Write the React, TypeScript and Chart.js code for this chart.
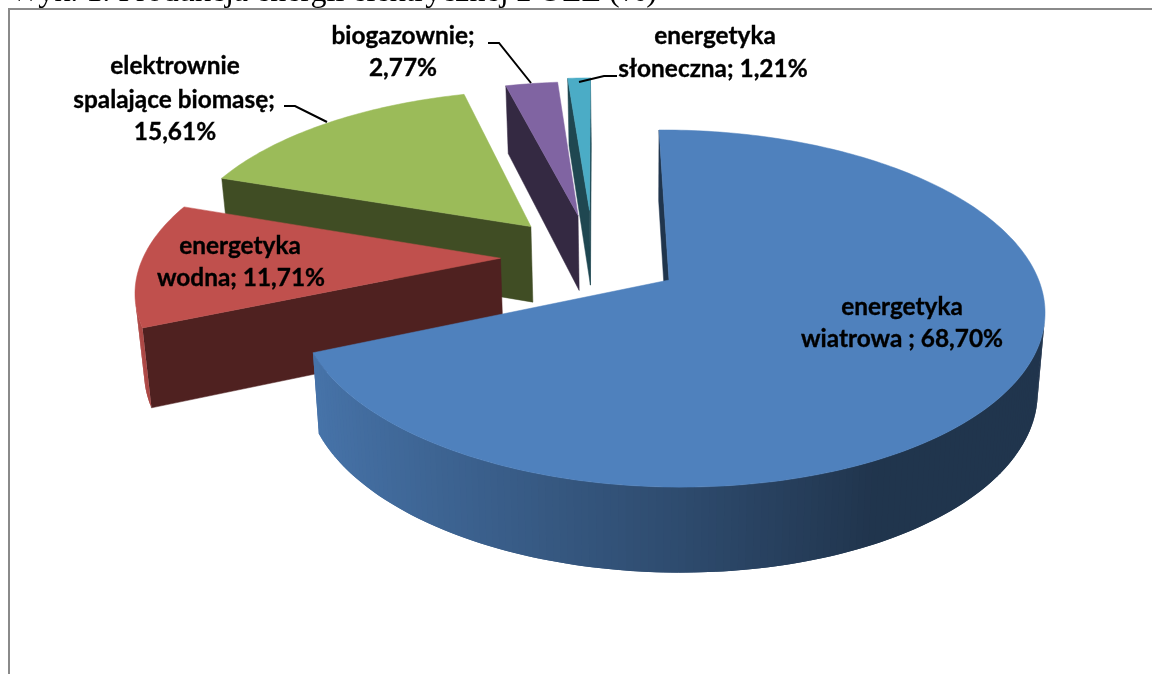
import React, { useEffect, useRef } from "react";
import { Chart, registerables } from "chart.js";

Chart.register(...registerables);

const categories = [
  "energetyka wiatrowa",
  "energetyka wodna",
  "elektrownie spalające biomasę",
  "biogazownie",
  "energetyka słoneczna",
];
const values = [68.7, 11.71, 15.61, 2.77, 1.21];
const sliceColors = ["#4F81BD", "#C0504D", "#9BBB59", "#8064A2", "#4BACC6"];
const titleText = "Wyk. 1. Produkcja energii elektrycznej z OZE (%)";

const labelLines = [
  ["energetyka", "wiatrowa ; 68,70%"],
  ["energetyka", "wodna; 11,71%"],
  ["elektrownie", "spalające biomasę;", "15,61%"],
  ["biogazownie;", "2,77%"],
  ["energetyka", "słoneczna; 1,21%"],
];

// label placement: centre x and centre y of each line
const labelCentres: number[][][] = [
  [[902, 307], [902, 339]],
  [[240, 246], [241, 278]],
  [[175, 66], [174, 100], [175, 132]],
  [[403, 36], [403, 68]],
  [[715, 36], [713, 69]],
];
const leaders: number[][][] = [
  [],
  [],
  [[284, 106], [295, 106], [327, 122]],
  [[488, 43], [499, 43], [531, 83]],
  [[617, 76], [604, 76], [579, 82]],
];

// pie-plane offset of each exploded slice, in radii (x to the right, t towards the viewer)
const explodeX = [0, -0.464, -0.385, -0.2505, -0.2174];
const explodeT = [0, -0.132, -0.3266, -0.397, -0.43];

// perspective of the pie plane
const OX = 669, OY = 280;
const A = 368, B = 11.6, D = -1.5, E = 174, G = -0.003, H = -0.16;

function project(x: number, t: number, bottom: boolean): [number, number] {
  const w = 1 + G * x + H * t;
  let sx = OX + (A * x + B * t) / w;
  let sy = OY + (D * x + E * t) / w;
  if (bottom) {
    sy += 78 + 7.5 * t;
    sx = 640 + (sx - 640) * 0.982;
  }
  return [sx, sy];
}

function shade(hex: string, f: number): string {
  const n = parseInt(hex.slice(1), 16);
  const c = [(n >> 16) & 255, (n >> 8) & 255, n & 255].map((v) => Math.round(v * f));
  return `rgb(${c[0]},${c[1]},${c[2]})`;
}

function area(p: [number, number][]): number {
  let s = 0;
  p.forEach((a, i) => {
    const b = p[(i + 1) % p.length];
    s += a[0] * b[1] - b[0] * a[1];
  });
  return s;
}

function poly(ctx: CanvasRenderingContext2D, pts: [number, number][], color: string, edge = true) {
  ctx.beginPath();
  pts.forEach((p, i) => (i ? ctx.lineTo(p[0], p[1]) : ctx.moveTo(p[0], p[1])));
  ctx.closePath();
  ctx.fillStyle = color;
  ctx.fill();
  if (edge) {
    ctx.strokeStyle = color;
    ctx.lineWidth = 0.5;
    ctx.stroke();
  }
}

const pie3d = {
  id: "pie3d",
  beforeDatasetDraw(chart: any) {
    const ctx: CanvasRenderingContext2D = chart.ctx;
    const arcs = chart.getDatasetMeta(0).data;
    ctx.save();
    for (let i = arcs.length - 1; i >= 0; i--) {
      const arc = arcs[i];
      const color: string = arc.options.backgroundColor;
      const a0: number = arc.startAngle;
      const a1: number = arc.endAngle;
      const cx = explodeX[i];
      const ct = explodeT[i];
      const at = (a: number) => [cx + Math.cos(a), ct + Math.sin(a)];
      const n = Math.max(4, Math.ceil((a1 - a0) / (Math.PI / 180)));
      const ang = Array.from({ length: n + 1 }, (_, k) => a0 + ((a1 - a0) * k) / n);
      const dark = shade(color, 0.41);

      const face = (a: number, sign: number) => {
        const [x, t] = at(a);
        const q: [number, number][] = [
          project(cx, ct, false),
          project(x, t, false),
          project(x, t, true),
          project(cx, ct, true),
        ];
        if (area(q) * sign > 0) poly(ctx, q, dark);
      };
      face(a0, -1);
      face(a1, 1);

      for (let k = 0; k < n; k++) {
        const [x0, t0] = at(ang[k]);
        const [x1, t1] = at(ang[k + 1]);
        const [x2, t2] = at(ang[Math.min(n, k + 2)]);
        const q: [number, number][] = [
          project(x0, t0, false),
          project(x1, t1, false),
          project(x1, t1, true),
          project(x0, t0, true),
        ];
        if (area(q) >= 0) continue;
        const nx = Math.cos((ang[k] + ang[k + 1]) / 2);
        const f = nx <= 0 ? 0.58 - nx * 0.34 : Math.max(0.41, 0.58 - 0.38 * nx);
        poly(
          ctx,
          [project(x0, t0, false), project(x2, t2, false), project(x2, t2, true), project(x0, t0, true)],
          shade(color, f),
          false
        );
      }

      const top: [number, number][] = [project(cx, ct, false)];
      ang.forEach((a) => {
        const [x, t] = at(a);
        top.push(project(x, t, false));
      });
      poly(ctx, top, color);
    }
    ctx.restore();
    return false;
  },
  afterDraw(chart: any) {
    const ctx: CanvasRenderingContext2D = chart.ctx;
    ctx.save();
    ctx.fillStyle = "#000";
    ctx.font = '32px "Liberation Serif"';
    ctx.textAlign = "left";
    ctx.textBaseline = "alphabetic";
    ctx.fillText(titleText, 10, 1);

    ctx.strokeStyle = "#8a8a8a";
    ctx.lineWidth = 2;
    ctx.beginPath();
    ctx.moveTo(9, 700);
    ctx.lineTo(9, 9);
    ctx.lineTo(1170, 9);
    ctx.stroke();

    ctx.strokeStyle = "#000";
    ctx.lineWidth = 2;
    leaders.forEach((l) => {
      if (!l.length) return;
      ctx.beginPath();
      l.forEach((p, i) => (i ? ctx.lineTo(p[0], p[1]) : ctx.moveTo(p[0], p[1])));
      ctx.stroke();
    });

    ctx.fillStyle = "#000";
    ctx.strokeStyle = "#000";
    ctx.lineWidth = 0.35;
    ctx.font = "bold 24.4px Lato";
    ctx.textAlign = "center";
    ctx.textBaseline = "middle";
    labelLines.forEach((lines, i) => {
      lines.forEach((s, j) => {
        const [x, y] = labelCentres[i][j];
        ctx.fillText(s, x, y);
        ctx.strokeText(s, x, y);
      });
    });
    ctx.restore();
  },
};

export default function App() {
  const ref = useRef<HTMLCanvasElement>(null);
  useEffect(() => {
    const chart = new Chart(ref.current as HTMLCanvasElement, {
      type: "pie",
      data: {
        labels: categories,
        datasets: [{ data: values, backgroundColor: sliceColors, borderWidth: 0 }],
      },
      options: {
        animation: false,
        responsive: false,
        devicePixelRatio: 1,
        plugins: { legend: { display: false }, tooltip: { enabled: false } },
      },
      plugins: [pie3d as any],
    });
    return () => chart.destroy();
  }, []);
  return (
    <div style={{ position: "fixed", left: 0, top: 0, width: 1152, height: 674, background: "#fff", overflow: "hidden" }}>
      <canvas ref={ref} width={1152} height={674} style={{ display: "block" }} />
    </div>
  );
}
